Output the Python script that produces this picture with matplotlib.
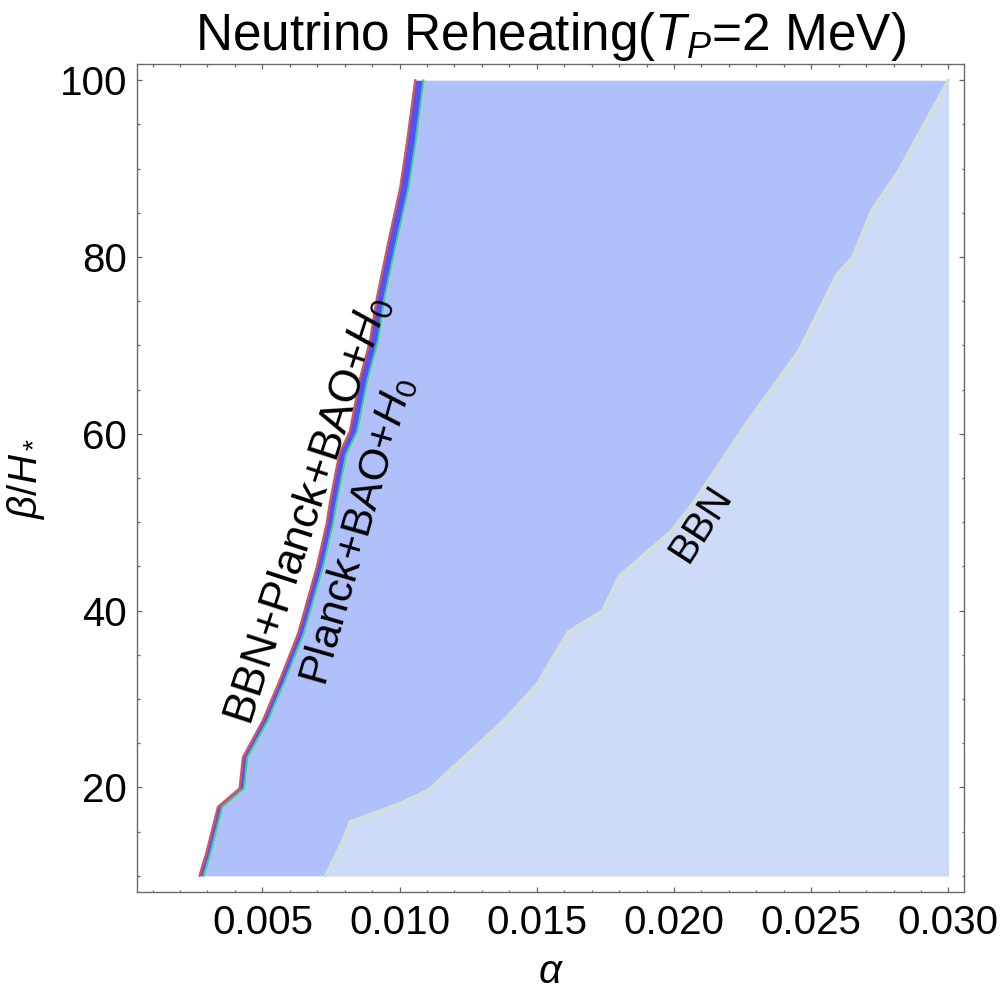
import numpy as np
import matplotlib.pyplot as plt

plt.rcParams['font.family'] = ['Liberation Sans', 'DejaVu Sans']
plt.rcParams['mathtext.fontset'] = 'custom'
plt.rcParams['mathtext.rm'] = 'Liberation Sans'
plt.rcParams['mathtext.it'] = 'Liberation Sans:italic'

# contour of BBN+Planck+BAO+H0 (red) and Planck+BAO+H0 (green), same beta grid
beta_left = [10, 11, 12.5, 17.8, 19.9, 23.4, 27.6, 29.9, 32.1, 37.4, 44.9,
             49.8, 52.2, 57.7, 60.3, 66.3, 70.5, 75.5, 81.7, 87.8, 93.0, 100]
alpha_red = [0.00271, 0.00280, 0.00295, 0.00338, 0.00417, 0.00429, 0.00502,
             0.00533, 0.00563, 0.00630, 0.00698, 0.00734, 0.00746, 0.00780,
             0.00819, 0.00856, 0.00892, 0.00918, 0.00959, 0.01002, 0.01027,
             0.01057]
alpha_green = [0.00286, 0.00295, 0.00310, 0.00353, 0.00433, 0.00445, 0.00520,
               0.00551, 0.00582, 0.00650, 0.00720, 0.00757, 0.00770, 0.00805,
               0.00845, 0.00884, 0.00921, 0.00945, 0.00988, 0.01032, 0.01058,
               0.01087]

# BBN boundary
beta_bbn = [10, 14.1, 16.1, 18.2, 19.7, 27.8, 31.8, 37.6, 40.0, 43.9, 49.0,
            52.4, 61.0, 69.3, 72.3, 78.0, 79.9, 85.3, 89.8, 100]
alpha_bbn = [0.00730, 0.00795, 0.00820, 0.01002, 0.01105, 0.01387, 0.01504,
             0.01614, 0.01740, 0.01800, 0.01990, 0.02075, 0.02260, 0.02453,
             0.02502, 0.02593, 0.02649, 0.02721, 0.02819, 0.03000]

alpha_max = 0.030
xticks = [0.005, 0.010, 0.015, 0.020, 0.025, 0.030]
xticklabels = ['0.005', '0.010', '0.015', '0.020', '0.025', '0.030']
yticks = [20, 40, 60, 80, 100]

fig = plt.figure(figsize=(10, 10.06), dpi=100)
ax = fig.add_axes([0.1367, 1 - 891.7 / 1006, 0.8276, (891.7 - 64.3) / 1006])

ax.fill_betweenx(beta_left, alpha_green, alpha_max, color='#b0c0fb', lw=0)
ax.fill_betweenx(beta_bbn, alpha_bbn, alpha_max, color='#cddaf8', lw=0)
ax.plot(alpha_bbn, beta_bbn, color='#d3e2cc', lw=2.2)
ax.fill_betweenx(beta_left, alpha_red, alpha_green, color='#4b55f8', lw=0)
ax.plot(alpha_red, beta_left, color='#d9506a', lw=1.6)
ax.plot(alpha_green, beta_left, color='#45d07e', lw=1.4)

ax.set_xlim(0.00042, 0.03058)
ax.set_ylim(8.2, 101.8)
ax.set_xticks(xticks)
ax.set_xticklabels(xticklabels)
ax.set_xticks(np.arange(0.001, 0.0305, 0.001), minor=True)
ax.set_yticks(yticks)
ax.set_yticks(np.arange(10, 101, 5), minor=True)
ax.tick_params(which='both', direction='in', top=True, right=True,
               color='#666666', labelsize=29)
ax.tick_params(axis='x', pad=9)
ax.tick_params(axis='y', pad=7)
ax.tick_params(which='major', length=3.3, width=0.9)
ax.tick_params(which='minor', length=1.8, width=0.9)
for s in ax.spines.values():
    s.set_color('#6a6a6a')
    s.set_linewidth(1.0)

ax.set_xlabel(r'$\alpha$', fontsize=29, labelpad=8)
ax.set_ylabel(r'$\beta/H_*$', fontsize=29)
ax.yaxis.set_label_coords(-0.108, 0.5)
ax.set_title(r'Neutrino Reheating($T_P$=2 MeV)', fontsize=37, pad=10)

ax.text(0.00667, 51.3, r'BBN+Planck+BAO+$H_0$', fontsize=32, rotation=72,
        ha='center', va='center', rotation_mode='anchor')
ax.text(0.00849, 49.0, r'Planck+BAO+$H_0$', fontsize=31, rotation=74,
        ha='center', va='center', rotation_mode='anchor')
ax.text(0.0210, 49.9, 'BBN', fontsize=29, rotation=57,
        ha='center', va='center', rotation_mode='anchor')

fig.savefig('out.png', dpi=100)
